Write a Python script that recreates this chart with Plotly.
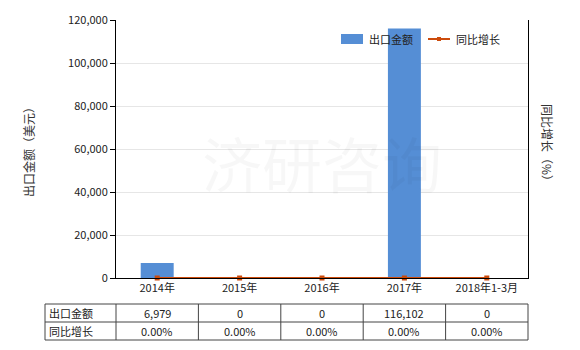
import plotly.graph_objects as go

categories = ["2014年", "2015年", "2016年", "2017年", "2018年1-3月"]
export_values = [6979, 0, 0, 116102, 0]
growth_values = [0, 0, 0, 0, 0]
export_labels = ["6,979", "0", "0", "116,102", "0"]
growth_labels = ["0.00%", "0.00%", "0.00%", "0.00%", "0.00%"]
row_names = ["出口金额", "同比增长"]
y_ticks = [0, 20000, 40000, 60000, 80000, 100000, 120000]

W, H = 580, 350
ML, MR, MT, MB = 116, 52, 20, 72
PW, PH = W - ML - MR, H - MT - MB
FONT = "Noto Sans CJK SC, Microsoft YaHei, sans-serif"
BLUE = "#558ed5"
ORANGE = "#cc4b0c"

def px_x(x):
    return (x - ML) / PW

def px_y(y):
    return (H - MB - y) / PH

fig = go.Figure()
fig.add_trace(go.Bar(
    x=categories, y=export_values, name="出口金额",
    marker=dict(color=BLUE, line=dict(width=0)), width=0.4,
))
fig.add_trace(go.Scatter(
    x=categories, y=growth_values, name="同比增长", yaxis="y2",
    mode="lines+markers", line=dict(color=ORANGE, width=2),
    marker=dict(symbol="square", size=5, color=ORANGE), cliponaxis=False,
))

shapes = []
annotations = []
# table
top, mid, bot = 304, 322, 340
left, right = 45, ML + PW
ncol = len(categories)
cw = PW / ncol
lc = dict(color="#444", width=1)
for yy in (top, mid, bot):
    shapes.append(dict(type="line", xref="paper", yref="paper", x0=px_x(left), x1=px_x(right), y0=px_y(yy), y1=px_y(yy), line=lc))
for xx in [left] + [ML + cw * i for i in range(ncol + 1)]:
    shapes.append(dict(type="line", xref="paper", yref="paper", x0=px_x(xx), x1=px_x(xx), y0=px_y(top), y1=px_y(bot), line=lc))
for r, (name, labels) in enumerate(zip(row_names, [export_labels, growth_labels])):
    yc = px_y((top + mid) / 2 if r == 0 else (mid + bot) / 2)
    annotations.append(dict(xref="paper", yref="paper", x=px_x(left + 2), y=yc, text=name, showarrow=False,
                            xanchor="left", yanchor="middle", font=dict(size=11, color="#222", family=FONT)))
    for i, lab in enumerate(labels):
        annotations.append(dict(xref="paper", yref="paper", x=px_x(ML + cw * (i + 0.5)), y=yc, text=lab, showarrow=False,
                                xanchor="center", yanchor="middle", font=dict(size=11, color="#222", family=FONT)))

# custom legend
shapes.append(dict(type="rect", xref="paper", yref="paper", x0=px_x(341), x1=px_x(363), y0=px_y(44), y1=px_y(34),
                   fillcolor=BLUE, line=dict(width=0)))
shapes.append(dict(type="line", xref="paper", yref="paper", x0=px_x(428), x1=px_x(450), y0=px_y(39), y1=px_y(39),
                   line=dict(color=ORANGE, width=2)))
shapes.append(dict(type="rect", xref="paper", yref="paper", x0=px_x(437), x1=px_x(441), y0=px_y(41), y1=px_y(37),
                   fillcolor=ORANGE, line=dict(width=0)))
annotations.append(dict(xref="paper", yref="paper", x=px_x(367), y=px_y(39), text="出口金额", showarrow=False,
                        xanchor="left", yanchor="middle", font=dict(size=11, color="#222", family=FONT)))
annotations.append(dict(xref="paper", yref="paper", x=px_x(454), y=px_y(39), text="同比增长", showarrow=False,
                        xanchor="left", yanchor="middle", font=dict(size=11, color="#222", family=FONT)))

# watermark
annotations.append(dict(xref="paper", yref="paper", x=0.5, y=0.45, text="济研咨询", showarrow=False,
                        font=dict(size=60, color="rgba(0,0,0,0.03)", family=FONT)))
# right axis title
annotations.append(dict(xref="paper", yref="paper", x=px_x(548), y=px_y(145), text="同比增长（%）", showarrow=False,
                        xanchor="center", yanchor="middle",
                        textangle=90, font=dict(size=12, color="#333", family=FONT)))

fig.update_layout(
    width=W, height=H, margin=dict(l=ML, r=MR, t=MT, b=MB),
    paper_bgcolor="white", plot_bgcolor="white",
    font=dict(family=FONT, size=11, color="#333"),
    showlegend=False,
    xaxis=dict(showline=True, linecolor="black", linewidth=1, ticks="", showgrid=False,
               tickfont=dict(size=11, color="#222"), mirror=False),
    yaxis=dict(range=[0, 120000], tickvals=y_ticks, tickformat=",", showline=True, linecolor="black",
               ticks="outside", ticklen=5, tickcolor="black", gridcolor="#e6e6e6", zeroline=False,
               tickfont=dict(size=11, color="#222"),
               title=dict(text="出口金额（美元）", font=dict(size=12, color="#333"), standoff=30)),
    yaxis2=dict(overlaying="y", side="right", range=[0, 1], showline=True, linecolor="black",
                showticklabels=False, ticks="", showgrid=False, zeroline=False),
    shapes=shapes, annotations=annotations, bargap=0.6,
)

fig.write_html("out.html")
